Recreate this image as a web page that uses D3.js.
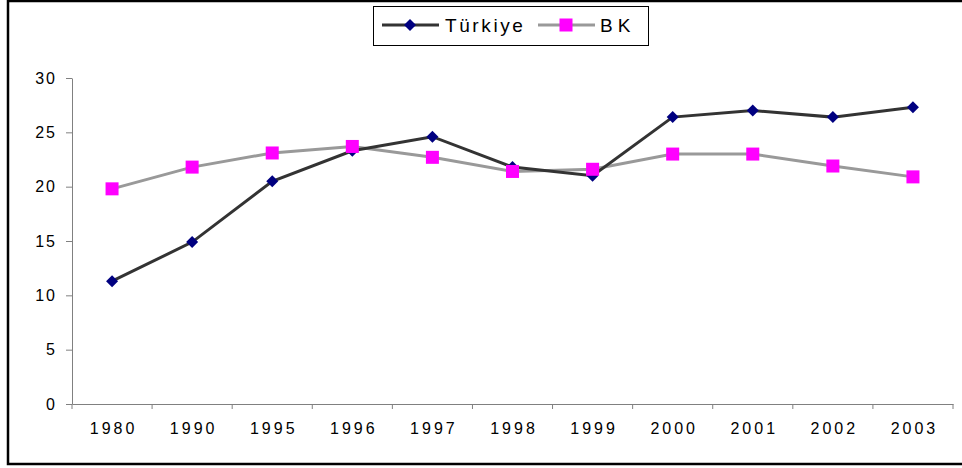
<!DOCTYPE html>
<html><head><meta charset="utf-8">
<script src="https://cdn.jsdelivr.net/npm/d3@7"></script>
<style>body{margin:0;background:#fff}svg{display:block}text{font-family:"Liberation Sans",Arial,sans-serif}</style>
</head><body><svg id="c" width="962" height="468"></svg>
<script>
const categories = ["1980","1990","1995","1996","1997","1998","1999","2000","2001","2002","2003"];
const turkiye = [11.3,14.9,20.5,23.3,24.6,21.8,21.0,26.4,27.0,26.4,27.3];
const bk = [19.8,21.8,23.1,23.7,22.7,21.4,21.6,23.0,23.0,21.9,20.9];
const yTicks = [0,5,10,15,20,25,30];
const seriesNames = ["Türkiye","BK"];

const svg = d3.select("#c");
svg.append("rect").attr("x",8).attr("y",1).attr("width",970).attr("height",463)
  .attr("fill","none").attr("stroke","#000").attr("stroke-width",2.5);

const x = d3.scaleBand().domain(categories).range([72,953]);
const y = d3.scaleLinear().domain([0,30]).range([404,78]);

const axisColor = "#808080";
// y axis
const ya = svg.append("g").attr("transform","translate(72,0)")
  .call(d3.axisLeft(y).tickValues(yTicks).tickSize(6).tickPadding(9).tickSizeOuter(0));
ya.select(".domain").attr("stroke",axisColor);
ya.selectAll(".tick line").attr("stroke",axisColor);
ya.selectAll("text").attr("font-size",16).attr("fill","#000").attr("letter-spacing","2px")
  .style("font-family","'Liberation Sans',Arial,sans-serif");

// x axis
const xa = svg.append("g").attr("transform","translate(0,404)")
  .call(d3.axisBottom(x).tickSize(0).tickPadding(19));
xa.select(".domain").attr("stroke",axisColor);
xa.selectAll("text").attr("font-size",16).attr("fill","#000").attr("letter-spacing","3px")
  .attr("dx","1.5px")
  .style("font-family","'Liberation Sans',Arial,sans-serif");
const bounds = categories.map(c=>x(c)).concat([x.range()[1]]);
svg.append("g").selectAll("line").data(bounds).join("line")
  .attr("x1",d=>d).attr("x2",d=>d).attr("y1",404).attr("y2",409)
  .attr("stroke",axisColor);

const cx = c => x(c) + x.bandwidth()/2;
const line = d3.line().x((d,i)=>cx(categories[i])).y(d=>y(d));

// BK
svg.append("path").datum(bk).attr("d",line).attr("fill","none").attr("stroke","#999999").attr("stroke-width",3);
// Türkiye
svg.append("path").datum(turkiye).attr("d",line).attr("fill","none").attr("stroke","#333333").attr("stroke-width",3);

const diamond = (g,px,py)=>g.append("path")
  .attr("d",`M${px},${py-6}L${px+6},${py}L${px},${py+6}L${px-6},${py}Z`).attr("fill","#000080");
const square = (g,px,py)=>g.append("rect").attr("x",px-6.5).attr("y",py-6.5).attr("width",13).attr("height",13).attr("fill","#FF00FF");

const mk = svg.append("g");
turkiye.forEach((v,i)=>diamond(mk,cx(categories[i]),y(v)));
bk.forEach((v,i)=>square(mk,cx(categories[i]),y(v)));

// legend
const lg = svg.append("g");
lg.append("rect").attr("x",373.5).attr("y",6.5).attr("width",275).attr("height",39)
  .attr("fill","#fff").attr("stroke","#000").attr("stroke-width",1);
lg.append("line").attr("x1",382).attr("x2",439).attr("y1",25).attr("y2",25).attr("stroke","#333").attr("stroke-width",3);
diamond(lg,410,25);
lg.append("text").attr("x",445).attr("y",32).attr("font-size",19).attr("letter-spacing","2.6px").text(seriesNames[0]);
lg.append("line").attr("x1",538).attr("x2",595).attr("y1",25).attr("y2",25).attr("stroke","#999").attr("stroke-width",3);
square(lg,566,25);
lg.append("text").attr("x",600).attr("y",32).attr("font-size",19).attr("letter-spacing","5px").text(seriesNames[1]);
</script></body></html>
